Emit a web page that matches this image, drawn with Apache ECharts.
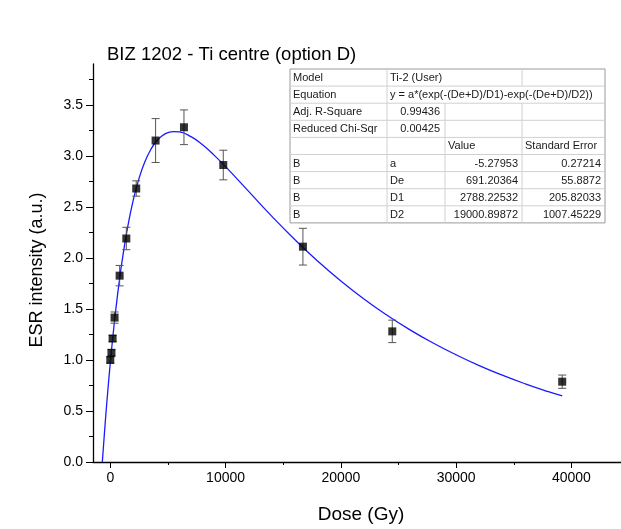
<!DOCTYPE html>
<html>
<head>
<meta charset="utf-8">
<script src="https://cdn.jsdelivr.net/npm/echarts@6/dist/echarts.min.js"></script>
<style>
  html, body { margin: 0; padding: 0; background: #fff; }
  #chart { width: 621px; height: 529px; }
</style>
</head>
<body>
<div id="chart"></div>
<script>
const FONT = "'Liberation Sans', Arial, sans-serif";

// measured points
const doseGy = [0, 100, 200, 370, 810, 1390, 2250, 3930, 6390, 9800, 16710, 24460, 39200];
const esr = [1.0, 1.07, 1.21, 1.415, 1.826, 2.19, 2.68, 3.15, 3.28, 2.91, 2.11, 1.28, 0.787];
const esrErr = [0.03, 0.03, 0.03, 0.055, 0.1, 0.11, 0.075, 0.215, 0.17, 0.145, 0.18, 0.11, 0.065];

// fitted curve
const fitDose = [-691, -500, -250, 0, 250, 500, 750, 1000, 1500, 2000, 2500, 3000, 3500, 4000, 4500, 5000,
  5500, 6000, 7000, 8000, 9000, 10000, 12000, 14000, 16000, 18000, 20000, 22000, 24000, 26000,
  28000, 30000, 32000, 34000, 36000, 38000, 39200];
const fitEsr = [0, 0.297, 0.652, 0.971, 1.257, 1.515, 1.745, 1.951, 2.299, 2.571, 2.782, 2.942, 3.060, 3.143, 3.197, 3.228,
  3.238, 3.234, 3.188, 3.108, 3.007, 2.894, 2.652, 2.409, 2.180, 1.968, 1.774, 1.598, 1.439, 1.295,
  1.166, 1.050, 0.945, 0.851, 0.766, 0.689, 0.647];

// axis ticks
const xMajorTicks = [0, 10000, 20000, 30000, 40000];
const xMinorTicks = [5000, 15000, 25000, 35000];
const yMajorTicks = [0, 0.5, 1.0, 1.5, 2.0, 2.5, 3.0, 3.5];
const yMinorTicks = [0.25, 0.75, 1.25, 1.75, 2.25, 2.75, 3.25, 3.75];

// fit report table
const tableRows = [
  ['Model', 'Ti-2 (User)', '', ''],
  ['Equation', 'y = a*(exp(-(De+D)/D1)-exp(-(De+D)/D2))', '', ''],
  ['Adj. R-Square', '0.99436', '', ''],
  ['Reduced Chi-Sqr', '0.00425', '', ''],
  ['', '', 'Value', 'Standard Error'],
  ['B', 'a', '-5.27953', '0.27214'],
  ['B', 'De', '691.20364', '55.8872'],
  ['B', 'D1', '2788.22532', '205.82033'],
  ['B', 'D2', '19000.89872', '1007.45229']
];

const points = doseGy.map((d, i) => [d, esr[i]]);
const errData = doseGy.map((d, i) => [d, esr[i] - esrErr[i], esr[i] + esrErr[i]]);
const fitLine = fitDose.map((d, i) => [d, fitEsr[i]]);

// table graphic
const colX = [290, 387, 445, 522, 605];
const rowTop = 69;
const rowH = 17.1;
const tableEls = [];
const nRows = tableRows.length;
tableEls.push({
  type: 'rect', shape: { x: colX[0], y: rowTop, width: colX[4] - colX[0], height: rowH * nRows },
  style: { fill: '#fff', stroke: '#9a9a9a', lineWidth: 1 }, z: 10
});
for (let r = 1; r < nRows; r++) {
  tableEls.push({
    type: 'line', shape: { x1: colX[0], y1: rowTop + r * rowH, x2: colX[4], y2: rowTop + r * rowH },
    style: { stroke: '#d0d0d0', lineWidth: 1 }, z: 11
  });
}
tableEls.push({
  type: 'line', shape: { x1: colX[1], y1: rowTop, x2: colX[1], y2: rowTop + nRows * rowH },
  style: { stroke: '#d0d0d0', lineWidth: 1 }, z: 11
});
[2, 3].forEach(c => {
  tableEls.push({
    type: 'line', shape: { x1: colX[c], y1: rowTop + 2 * rowH, x2: colX[c], y2: rowTop + nRows * rowH },
    style: { stroke: '#d0d0d0', lineWidth: 1 }, z: 11
  });
});
tableEls.push({
  type: 'line', shape: { x1: colX[3], y1: rowTop, x2: colX[3], y2: rowTop + rowH },
  style: { stroke: '#d0d0d0', lineWidth: 1 }, z: 11
});
tableRows.forEach((row, r) => {
  row.forEach((txt, c) => {
    if (!txt) return;
    let rightAlign = (c >= 2 && r >= 5) || (c === 1 && (r === 2 || r === 3));
    let x = rightAlign ? colX[c + 1] - 4 : colX[c] + 3;
    if (c === 1 && (r === 2 || r === 3)) x = 440;
    tableEls.push({
      type: 'text', z: 12,
      style: {
        x: x, y: rowTop + r * rowH + rowH / 2 + 0.5, text: txt,
        align: rightAlign ? 'right' : 'left', verticalAlign: 'middle',
        font: '11px ' + FONT, fill: '#1a1a1a'
      }
    });
  });
});

const chart = echarts.init(document.getElementById('chart'));
chart.setOption({
  backgroundColor: '#fff',
  animation: false,
  textStyle: { fontFamily: FONT },
  title: {
    text: 'BIZ 1202 - Ti centre (option D)',
    left: 102, top: 40,
    textStyle: { fontFamily: FONT, fontSize: 18.5, fontWeight: 'normal', color: '#000' }
  },
  grid: { left: 93, right: 0, top: 64, bottom: 67 },
  xAxis: [{
    type: 'value', min: -1500, max: 44300,
    name: 'Dose (Gy)', nameLocation: 'middle', nameGap: 43,
    nameTextStyle: { fontFamily: FONT, fontSize: 19, color: '#000', padding: [0, 0, 0, 8] },
    axisLine: { show: true, onZero: false, lineStyle: { color: '#000', width: 1.3 } },
    axisTick: { show: true, length: 6, customValues: xMajorTicks, lineStyle: { color: '#000' } },
    axisLabel: {
      customValues: xMajorTicks, margin: 9, fontSize: 14, color: '#000', fontFamily: FONT,
      formatter: v => String(v)
    },
    splitLine: { show: false }
  }, {
    type: 'value', min: -1500, max: 44300, gridIndex: 0, position: 'bottom',
    axisLine: { show: true, onZero: false, lineStyle: { opacity: 0 } },
    axisTick: { show: true, length: 3, customValues: xMinorTicks, lineStyle: { color: '#000' } },
    axisLabel: { show: false },
    splitLine: { show: false }
  }],
  yAxis: [{
    type: 'value', min: 0, max: 3.9,
    name: 'ESR intensity (a.u.)', nameLocation: 'middle', nameGap: 47, nameRotate: 90,
    nameTextStyle: { fontFamily: FONT, fontSize: 18, color: '#000', padding: [0, 14, 0, 0] },
    axisLine: { show: true, onZero: false, lineStyle: { color: '#000', width: 1.3 } },
    axisTick: { show: true, length: 7, customValues: yMajorTicks, lineStyle: { color: '#000' } },
    axisLabel: {
      customValues: yMajorTicks, margin: 10, fontSize: 14, color: '#000', fontFamily: FONT,
      formatter: v => v.toFixed(1)
    },
    splitLine: { show: false }
  }, {
    type: 'value', min: 0, max: 3.9, position: 'left',
    axisLine: { show: true, onZero: false, lineStyle: { opacity: 0 } },
    axisTick: { show: true, length: 4, customValues: yMinorTicks, lineStyle: { color: '#000' } },
    axisLabel: { show: false },
    splitLine: { show: false }
  }],
  series: [{
    type: 'line', data: fitLine, smooth: true, showSymbol: false,
    lineStyle: { color: '#1a1aff', width: 1.3 }, z: 3
  }, {
    type: 'custom', data: errData, z: 4,
    renderItem: (params, api) => {
      const top = api.coord([api.value(0), api.value(2)]);
      const bot = api.coord([api.value(0), api.value(1)]);
      const hw = 4;
      const st = { stroke: '#555', lineWidth: 1 };
      return {
        type: 'group', children: [
          { type: 'line', shape: { x1: top[0], y1: top[1], x2: bot[0], y2: bot[1] }, style: st },
          { type: 'line', shape: { x1: top[0] - hw, y1: top[1], x2: top[0] + hw, y2: top[1] }, style: st },
          { type: 'line', shape: { x1: bot[0] - hw, y1: bot[1], x2: bot[0] + hw, y2: bot[1] }, style: st }
        ]
      };
    }
  }, {
    type: 'scatter', data: points, symbol: 'rect', symbolSize: 8,
    itemStyle: { color: '#000' }, z: 5
  }],
  graphic: tableEls
});
</script>
</body>
</html>
